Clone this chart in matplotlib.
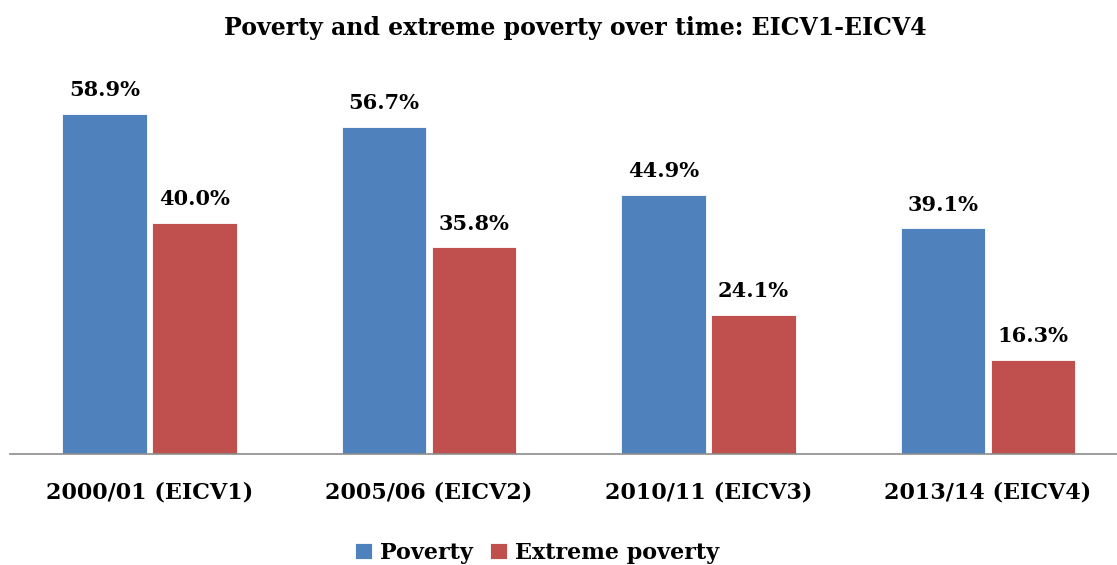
import matplotlib
matplotlib.use("Agg")
import matplotlib.pyplot as plt
import numpy as np

categories = ["2000/01 (EICV1)", "2005/06 (EICV2)", "2010/11 (EICV3)", "2013/14 (EICV4)"]
poverty = [58.9, 56.7, 44.9, 39.1]
extreme = [40.0, 35.8, 24.1, 16.3]
series_names = ["Poverty", "Extreme poverty"]
title = "Poverty and extreme poverty over time: EICV1-EICV4"

blue = "#4F81BD"
red = "#C0504D"

plt.rcParams["font.family"] = ["DejaVu Serif"]
plt.rcParams["font.weight"] = "bold"

W, H = 1117, 565
fig = plt.figure(figsize=(W / 100, H / 100), dpi=100)
ax = fig.add_axes([9.75 / W, (H - 454) / H, 1118 / W, (454 - 60) / H])

x = np.arange(len(categories))
bw = 0.304
off = 0.161
b1 = ax.bar(x - off, poverty, bw, color=blue, edgecolor="white", linewidth=0.6, label=series_names[0])
b2 = ax.bar(x + off, extreme, bw, color=red, edgecolor="white", linewidth=0.6, label=series_names[1])

for bars, vals in ((b1, poverty), (b2, extreme)):
    for rect, v in zip(bars, vals):
        ax.annotate(f"{v:.1f}%", (rect.get_x() + rect.get_width() / 2, v),
                    xytext=(0, 10), textcoords="offset points", ha="center", va="bottom",
                    fontsize=15, fontweight="bold", color="black")

ax.set_xlim(-0.5, len(categories) - 0.5)
ax.set_ylim(0, 68.3)
ax.set_xticks(x)
ax.set_xticklabels(categories, fontsize=16, fontweight="bold")
ax.tick_params(axis="x", length=0, pad=20)
ax.set_yticks([])
for s in ["top", "right", "left"]:
    ax.spines[s].set_visible(False)
ax.spines["bottom"].set_color("#8C8C8C")
ax.spines["bottom"].set_linewidth(1.2)

fig.text(575 / W, 1 - 28 / H, title, ha="center", va="center", fontsize=17, fontweight="bold")

leg = fig.legend(handles=[b1, b2], labels=series_names, loc="center", bbox_to_anchor=(537 / W, 1 - 553 / H),
                 ncol=2, frameon=False, handlelength=0.75, handleheight=0.75,
                 handletextpad=0.35, columnspacing=0.8, prop={"weight": "bold", "size": 16})

fig.savefig("out.png", dpi=100)
